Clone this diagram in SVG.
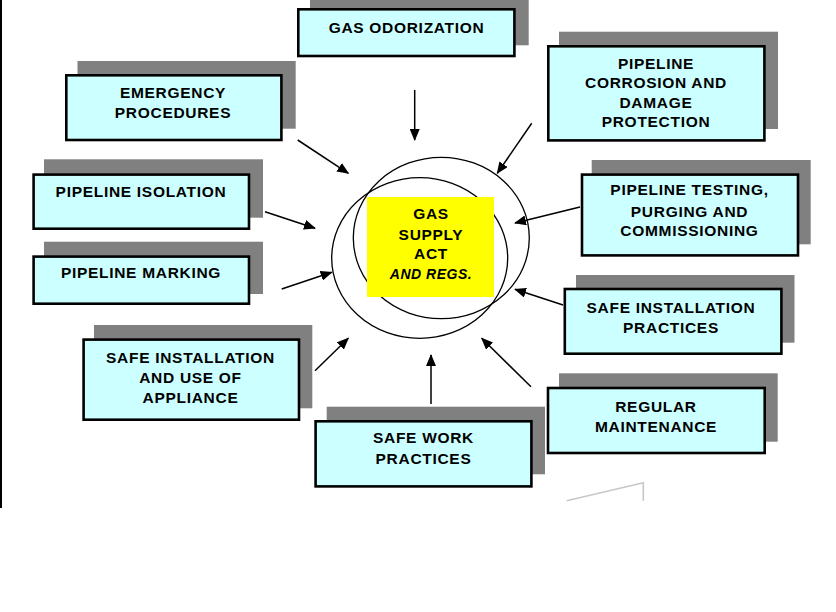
<svg xmlns="http://www.w3.org/2000/svg" width="836" height="612" viewBox="0 0 836 612">
<defs>
<style>
.sh{fill:#808080}
.bx{fill:#CCFFFF;stroke:#000;stroke-width:2.6}
.t{font-family:"Liberation Sans",Arial,sans-serif;font-weight:bold;font-size:15.5px;letter-spacing:0.7px;fill:#000;text-anchor:middle}
.ti{font-style:italic;font-size:14px;letter-spacing:0.5px}
.ar{stroke:#000;stroke-width:1.5;fill:none;marker-end:url(#ah)}
.el{fill:none;stroke:#000;stroke-width:1.3}
</style>
<marker id="ah" viewBox="0 0 12 10" refX="11" refY="5" markerWidth="12" markerHeight="10" markerUnits="userSpaceOnUse" orient="auto">
<path d="M0,0 L12,5 L0,10 z" fill="#000"/>
</marker>
</defs>
<rect width="836" height="612" fill="#fff"/>
<line x1="1" y1="0" x2="1" y2="508" stroke="#000" stroke-width="2"/>
<polyline points="566.7,500.7 643.3,482.7 643.3,500.7" fill="none" stroke="#c8c8c8" stroke-width="1.6"/>

<g id="center">
<ellipse class="el" cx="419.7" cy="258" rx="88" ry="80.3"/>
<ellipse class="el" cx="441.3" cy="238" rx="88" ry="80.7"/>
<rect x="367" y="197" width="127" height="100" fill="#FFFF00"/>
<text class="t" x="431" y="219.3">GAS</text>
<text class="t" x="431" y="240">SUPPLY</text>
<text class="t" x="431" y="259.3">ACT</text>
<text class="t ti" x="431" y="278.7">AND REGS.</text>
</g>

<g id="connectors">
<line class="ar" x1="414.7" y1="90" x2="414.7" y2="140"/>
<line class="ar" x1="297.7" y1="140" x2="348.3" y2="173.3"/>
<line class="ar" x1="531.7" y1="123.3" x2="497.3" y2="173.3"/>
<line class="ar" x1="265" y1="211.7" x2="315" y2="228.3"/>
<line class="ar" x1="580" y1="207" x2="515" y2="223"/>
<line class="ar" x1="281.7" y1="289" x2="331.7" y2="272.3"/>
<line class="ar" x1="563" y1="305" x2="515" y2="289.3"/>
<line class="ar" x1="315" y1="370.7" x2="348.3" y2="338.3"/>
<line class="ar" x1="431" y1="404" x2="431" y2="355"/>
<line class="ar" x1="531" y1="386.7" x2="481.7" y2="338.3"/>
</g>

<g id="odorization">
<rect class="sh" x="310" y="-4" width="218.7" height="49.3"/>
<rect class="bx" x="298.3" y="9.3" width="216.1" height="46.7"/>
<text class="t" x="406.5" y="33.3">GAS ODORIZATION</text>
</g>

<g id="emergency">
<rect class="sh" x="77.5" y="61" width="218.2" height="67.7"/>
<rect class="bx" x="66.3" y="75.3" width="215.1" height="64.7"/>
<text class="t" x="173" y="97.5">EMERGENCY</text>
<text class="t" x="173" y="118">PROCEDURES</text>
</g>

<g id="corrosion">
<rect class="sh" x="559" y="31.7" width="219" height="97.3"/>
<rect class="bx" x="548.3" y="46.3" width="216.1" height="94.1"/>
<text class="t" x="656" y="69">PIPELINE</text>
<text class="t" x="656" y="88.3">CORROSION AND</text>
<text class="t" x="656" y="108">DAMAGE</text>
<text class="t" x="656" y="126.7">PROTECTION</text>
</g>

<g id="isolation">
<rect class="sh" x="44" y="159.3" width="219" height="58.4"/>
<rect class="bx" x="33.6" y="174.6" width="215.4" height="54.1"/>
<text class="t" x="141" y="196.7">PIPELINE ISOLATION</text>
</g>

<g id="marking">
<rect class="sh" x="44" y="241.7" width="219" height="52.3"/>
<rect class="bx" x="33.6" y="256.6" width="215.4" height="47.1"/>
<text class="t" x="141" y="277.7">PIPELINE MARKING</text>
</g>

<g id="testing">
<rect class="sh" x="591.7" y="160" width="219" height="84.3"/>
<rect class="bx" x="582" y="174.6" width="216" height="80.8"/>
<text class="t" x="689.5" y="195">PIPELINE TESTING,</text>
<text class="t" x="689.5" y="216.7">PURGING AND</text>
<text class="t" x="689.5" y="236">COMMISSIONING</text>
</g>

<g id="practices">
<rect class="sh" x="576" y="275" width="218.5" height="67.7"/>
<rect class="bx" x="564.8" y="289" width="216.6" height="64.7"/>
<text class="t" x="671" y="312.7">SAFE INSTALLATION</text>
<text class="t" x="671" y="332.7">PRACTICES</text>
</g>

<g id="appliance">
<rect class="sh" x="94" y="325" width="218.3" height="83.3"/>
<rect class="bx" x="83.6" y="339.6" width="215.4" height="80.1"/>
<text class="t" x="190.5" y="362.7">SAFE INSTALLATION</text>
<text class="t" x="190.5" y="382.7">AND USE OF</text>
<text class="t" x="190.5" y="402.7">APPLIANCE</text>
</g>

<g id="safework">
<rect class="sh" x="326.7" y="406.7" width="218.3" height="67.6"/>
<rect class="bx" x="315.6" y="421.3" width="215.8" height="65.1"/>
<text class="t" x="423.5" y="443.3">SAFE WORK</text>
<text class="t" x="423.5" y="464">PRACTICES</text>
</g>

<g id="maintenance">
<rect class="sh" x="559" y="373.3" width="218.7" height="68.4"/>
<rect class="bx" x="548" y="388" width="216.7" height="65"/>
<text class="t" x="656" y="411.7">REGULAR</text>
<text class="t" x="656" y="431.7">MAINTENANCE</text>
</g>
</svg>
